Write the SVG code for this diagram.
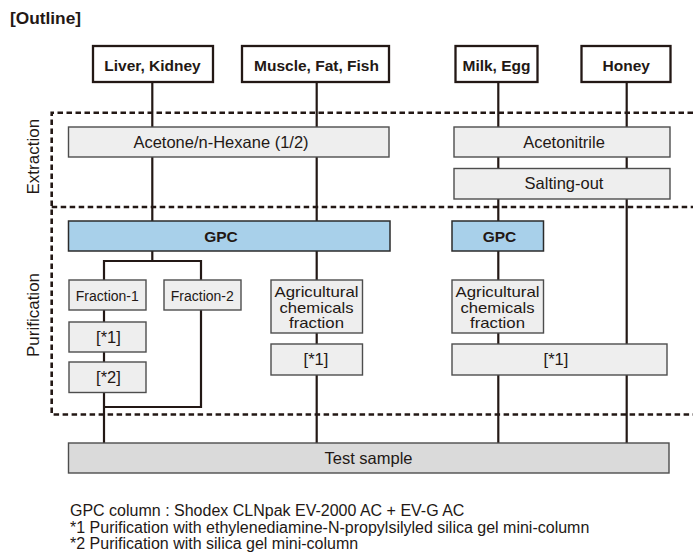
<svg xmlns="http://www.w3.org/2000/svg" width="693" height="555" viewBox="0 0 693 555">
<style>
text{font-family:"Liberation Sans",Arial,Helvetica,sans-serif;fill:#231815}
.b{font-weight:bold;font-size:15.5px;text-anchor:middle}
.r{font-size:16.5px;text-anchor:middle}
.a{font-size:14.5px;text-anchor:middle}
.f{font-size:14px;text-anchor:middle}
.src{fill:#fff;stroke:#231815;stroke-width:2.3}
.proc{fill:#eeeeee;stroke:#4d4d4d;stroke-width:1.4}
.gpc{fill:#a8d0ea;stroke:#2b2b2b;stroke-width:1.5}
.test{fill:#dadada;stroke:#4d4d4d;stroke-width:1.4}
.con{fill:none;stroke:#231815;stroke-width:2.2}
.dash{fill:none;stroke:#231815;stroke-width:2.6;stroke-dasharray:5.5 3.5}
.note{font-size:16px}
</style>
<rect width="693" height="555" fill="#fff"/>
<text x="10" y="24" font-weight="bold" font-size="16" textLength="71" lengthAdjust="spacingAndGlyphs">[Outline]</text>

<g id="sections">
<path class="dash" d="M693 112.7H51.7V414.5H693"/>
<path class="dash" d="M51.7 207H693"/>
<text transform="translate(38.5,156.7) rotate(-90)" font-size="17" text-anchor="middle">Extraction</text>
<text transform="translate(38.5,315) rotate(-90)" font-size="17" text-anchor="middle">Purification</text>
</g>

<g id="connectors">
<path class="con" d="M152.3 82V261"/>
<path class="con" d="M104 443V261H201V407H104"/>
<path class="con" d="M316.7 82V443"/>
<path class="con" d="M498.3 82V443"/>
<path class="con" d="M626.7 82V443"/>
</g>

<g id="liver"><rect class="src" x="93" y="46" width="120" height="36"/><text class="b" x="152.5" y="70.7">Liver, Kidney</text></g>
<g id="muscle"><rect class="src" x="242" y="46" width="147" height="36"/><text class="b" x="316.5" y="70.7">Muscle, Fat, Fish</text></g>
<g id="milk"><rect class="src" x="455.5" y="46" width="82" height="36"/><text class="b" x="496.5" y="70.7">Milk, Egg</text></g>
<g id="honey"><rect class="src" x="581.5" y="46" width="89" height="36"/><text class="b" x="626.3" y="70.7">Honey</text></g>

<g id="acetone"><rect class="proc" x="68.5" y="127" width="320.5" height="30"/><text class="r" x="221" y="147.7">Acetone/n-Hexane (1/2)</text></g>
<g id="acetonitrile"><rect class="proc" x="454" y="127" width="216" height="30"/><text class="r" x="564" y="147.7">Acetonitrile</text></g>
<g id="salting"><rect class="proc" x="454" y="168.5" width="216" height="30.5"/><text class="r" x="564" y="189.3">Salting-out</text></g>

<g id="gpc1"><rect class="gpc" x="68.5" y="221" width="321.5" height="30"/><text class="b" x="221" y="241.7">GPC</text></g>
<g id="gpc2"><rect class="gpc" x="452" y="221" width="91.5" height="30"/><text class="b" x="499.5" y="241.7">GPC</text></g>

<g id="fraction1"><rect class="proc" x="69" y="280" width="77" height="30"/><text class="f" x="107.3" y="301">Fraction-1</text></g>
<g id="fraction2"><rect class="proc" x="164" y="280" width="77" height="30"/><text class="f" x="202.3" y="301">Fraction-2</text></g>
<g id="f1-pur1"><rect class="proc" x="69" y="322" width="77" height="30"/><text class="r" x="108.5" y="342.5" font-size="15.5">[*1]</text></g>
<g id="f1-pur2"><rect class="proc" x="69" y="362" width="77" height="30.5"/><text class="r" x="108.5" y="382.5" font-size="15.5">[*2]</text></g>

<g id="agri1"><rect class="proc" x="271" y="280" width="91.5" height="53"/>
<text class="a" x="316.5" y="297.3" textLength="84" lengthAdjust="spacingAndGlyphs">Agricultural</text><text class="a" x="316.5" y="312.7" textLength="74" lengthAdjust="spacingAndGlyphs">chemicals</text><text class="a" x="316.5" y="327.5" textLength="55" lengthAdjust="spacingAndGlyphs">fraction</text></g>
<g id="agri1-pur"><rect class="proc" x="271" y="344" width="91.5" height="31"/><text class="r" x="316" y="365" font-size="15.5">[*1]</text></g>

<g id="agri2"><rect class="proc" x="452" y="280" width="91.5" height="53"/>
<text class="a" x="497.5" y="297.3" textLength="84" lengthAdjust="spacingAndGlyphs">Agricultural</text><text class="a" x="497.5" y="312.7" textLength="74" lengthAdjust="spacingAndGlyphs">chemicals</text><text class="a" x="497.5" y="327.5" textLength="55" lengthAdjust="spacingAndGlyphs">fraction</text></g>
<g id="agri2-pur"><rect class="proc" x="452" y="344" width="215" height="31"/><text class="r" x="556" y="365" font-size="15.5">[*1]</text></g>

<g id="test"><rect class="test" x="68.5" y="443" width="600.5" height="30"/><text class="r" x="368.5" y="463.7" font-size="16">Test sample</text></g>

<g id="notes">
<text class="note" x="70" y="515.7">GPC column : Shodex CLNpak EV-2000 AC + EV-G AC</text>
<text class="note" x="70" y="532.7">*1 Purification with ethylenediamine-N-propylsilyled silica gel mini-column</text>
<text class="note" x="70" y="549">*2 Purification with silica gel mini-column</text>
</g>
</svg>
